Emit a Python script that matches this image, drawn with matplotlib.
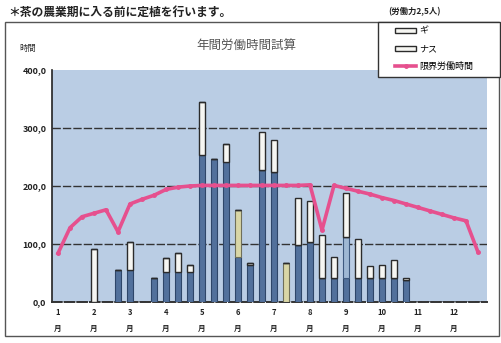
import numpy as np
import matplotlib.pyplot as plt
from matplotlib.patches import Rectangle

plt.rcParams['font.family'] = ['Noto Sans CJK JP', 'DejaVu Sans']

# 36 periods: 上旬・中旬・下旬 for each month
months = [f"{m}\n月" for m in range(1, 13)]

tea = [0, 0, 0, 0, 0, 55, 55, 0, 41, 52, 52, 52,
       253, 246, 241, 78, 64, 228, 224, 0, 98, 103, 41, 41,
       41, 41, 41, 41, 41, 38, 0, 0, 0, 0, 0, 0]
misc_yellow = [0, 0, 0, 0, 0, 0, 0, 0, 0, 0, 0, 0,
               0, 0, 0, 81, 0, 0, 0, 67, 0, 0, 0, 0,
               0, 0, 0, 0, 0, 0, 0, 0, 0, 0, 0, 0]
misc_light = [0, 0, 0, 0, 0, 0, 0, 0, 0, 0, 0, 0,
              0, 0, 0, 0, 0, 0, 0, 0, 0, 0, 0, 0,
              71, 0, 0, 0, 0, 0, 0, 0, 0, 0, 0, 0]
negi = [0, 0, 0, 91, 0, 0, 48, 0, 0, 24, 32, 12,
        92, 0, 31, 0, 3, 0, 0, 0, 0, 0, 0, 0,
        0, 0, 0, 0, 0, 0, 0, 0, 0, 0, 0, 0]
nasu = [0, 0, 0, 0, 0, 0, 0, 0, 0, 0, 0, 0,
        0, 0, 0, 0, 0, 65, 55, 0, 81, 71, 74, 37,
        76, 67, 21, 23, 31, 3, 0, 0, 0, 0, 0, 0]
limit_hours = [84, 128, 147, 153, 159, 121, 169, 177, 184, 194, 198, 200,
               201, 201, 201, 201, 201, 201, 201, 201, 201, 202, 124, 201,
               196, 191, 186, 180, 175, 169, 163, 157, 151, 145, 140, 86]

x = np.arange(len(tea))
tea = np.array(tea)
misc_yellow = np.array(misc_yellow)
misc_light = np.array(misc_light)
negi = np.array(negi)
nasu = np.array(nasu)

fig = plt.figure(figsize=(5.01, 3.43), dpi=100)
W, H = 501, 343

# outer frame
fig.patches.append(Rectangle((5 / W, 1 - 336 / H), 494 / W, 314 / H,
                             transform=fig.transFigure, fill=False,
                             edgecolor='#555555', linewidth=1.0))

ax = fig.add_axes([52 / W, 1 - 302 / H, 435 / W, 232 / H])
ax.set_facecolor('#bacde4')

bw = 0.55
b1 = tea
b2 = b1 + misc_yellow
b3 = b2 + misc_light
b4 = b3 + negi
ax.bar(x, tea, bw, color='#52719c', edgecolor='#2e4669', linewidth=0.8, zorder=3)
ax.bar(x, misc_yellow, bw, bottom=b1, color='#d9d6a6', edgecolor='#6f6f5a',
       linewidth=0.8, zorder=3)
ax.bar(x, misc_light, bw, bottom=b2, color='#9fb8d4', edgecolor='#3f5a80',
       linewidth=0.8, zorder=3)
h_negi = ax.bar(x, negi, bw, bottom=b3, color='#f6f6f2', edgecolor='#2b2b2b',
                linewidth=1.0, zorder=3)
h_nasu = ax.bar(x, nasu, bw, bottom=b4, color='#f6f6f2', edgecolor='#2b2b2b',
                linewidth=1.0, zorder=3)
h_line, = ax.plot(x, limit_hours, color='#e6508e', linewidth=2.6, marker='o',
                  markersize=2.5, zorder=4)

ax.set_xlim(-0.5, 35.75)
ax.set_ylim(0, 400)
ax.set_yticks([0, 100, 200, 300, 400])
ax.set_yticklabels(['0,0', '100,0', '200,0', '300,0', '400,0'],
                   fontsize=6.5, fontweight='bold', color='#222222')
ax.set_xticks(np.arange(0, 36, 3))
ax.set_xticklabels(months, fontsize=5.5, fontweight='bold', color='#222222')
for lbl in ax.get_xticklabels():
    lbl.set_linespacing(2.0)
ax.tick_params(length=0, pad=4)

for v in [100, 200, 300]:
    ax.axhline(v, color='#333333', linewidth=1.0, linestyle=(0, (6, 1.5)), zorder=2)

for s in ['top', 'right']:
    ax.spines[s].set_visible(False)
ax.spines['left'].set_color('#222222')
ax.spines['left'].set_linewidth(1.2)
ax.spines['bottom'].set_color('#333333')
ax.spines['bottom'].set_linestyle((0, (5, 1.5)))
ax.spines['bottom'].set_linewidth(1.4)

fig.text(8 / W, 1 - 12 / H, '＊茶の農業期に入る前に定植を行います。', fontsize=8.5,
         fontweight='bold', color='#222222', va='center', ha='left')
fig.text(388 / W, 1 - 12 / H, '(労働力2,5人)', fontsize=6, fontweight='bold',
         color='#222222', va='center', ha='left')
fig.text(246 / W, 1 - 45 / H, '年間労働時間試算', fontsize=9, color='#555555',
         va='center', ha='center')
fig.text(28 / W, 1 - 48 / H, '時間', fontsize=6, color='#333333',
         va='center', ha='center')

# legend box spans to the right edge, entries sit inset from its left side
legend_box = Rectangle((378 / W, 1 - 77 / H), 122 / W, 55 / H,
                       transform=fig.transFigure, facecolor='white',
                       edgecolor='#333333', linewidth=1.0, zorder=9)
fig.patches.append(legend_box)
leg = fig.legend([h_negi, h_nasu, h_line], ['ギ', 'ナス', '限界労働時間'],
                 loc='upper left', bbox_to_anchor=(392 / W, 1 - 24 / H),
                 fontsize=6.5, frameon=False,
                 handlelength=2.4, handleheight=0.5, labelspacing=0.95,
                 borderpad=0.3, borderaxespad=0, handletextpad=0.3)
leg.set_zorder(10)

fig.savefig('out.png', dpi=100)
